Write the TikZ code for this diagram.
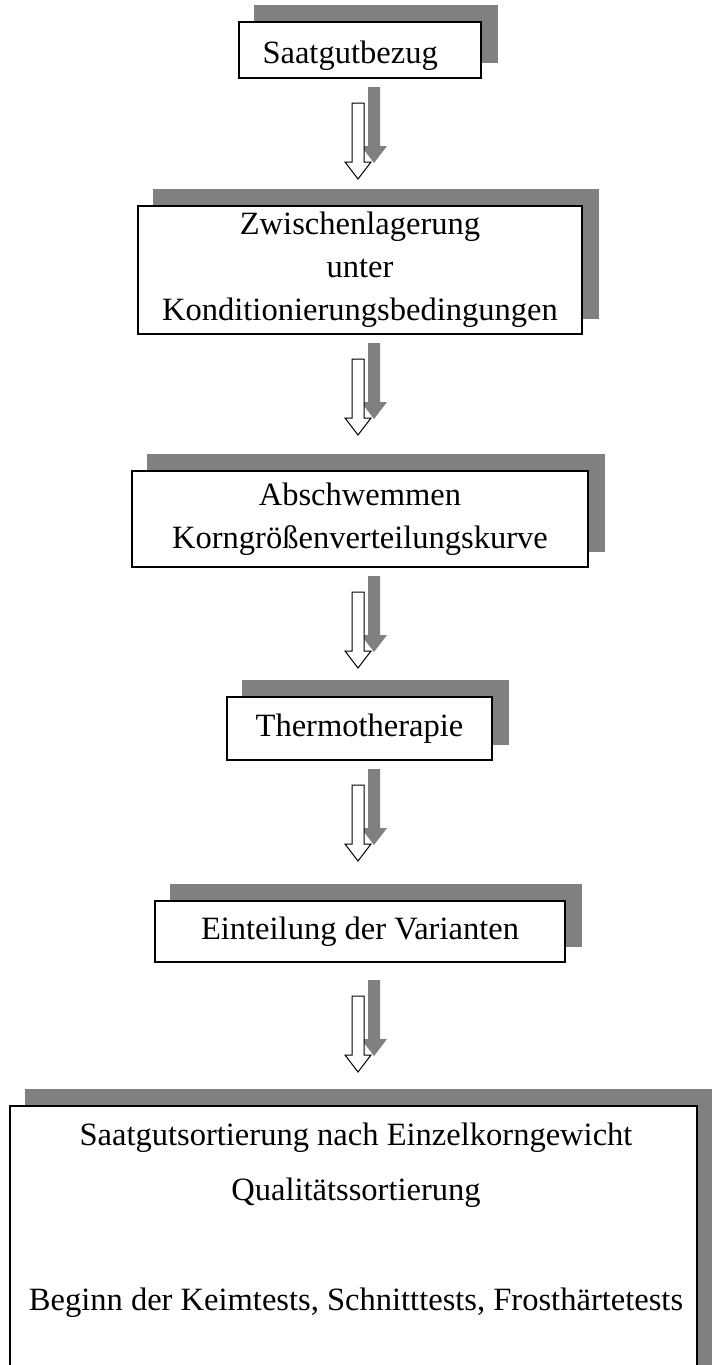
\documentclass[tikz,border=0pt]{standalone}
\usepackage{fontspec}
\setmainfont{Liberation Serif}
\usetikzlibrary{backgrounds}
\definecolor{schattengrau}{RGB}{128,128,128}

\tikzset{every picture/.style={line width=0.75pt},
	schrift/.style={font=\fontsize{24.4pt}{32.25pt}\selectfont},
	kasten/.style={draw=black, fill=white, line width=1.1pt, inner sep=0pt, align=center, schrift},
	pfeil/.style={draw=black, fill=white, line width=0.75pt, line join=miter},
	pfeilschatten/.style={fill=schattengrau}}

\begin{document}
\begin{tikzpicture}[x=0.75pt,y=0.75pt,yscale=-1,xscale=1]
	\useasboundingbox (0,0) rectangle (712,1365);
	\clip (0,0) rectangle (712,1365);
	
	%Shape: Rectangle [Saatgutbezug]
	\node[kasten, minimum width=181.5pt, minimum height=42pt] (bezug) at (360,50) {};
	%Shape: Rectangle [Zwischenlagerung]
	\node[kasten, minimum width=333pt, minimum height=96pt] (lager) at (360,270) {Zwischenlagerung\\unter\\Konditionierungsbedingungen};
	%Shape: Rectangle [Abschwemmen]
	\node[kasten, minimum width=342pt, minimum height=72pt] (schwemm) at (360,519) {Abschwemmen\\Korngrößenverteilungskurve};
	%Shape: Rectangle [Thermotherapie]
	\node[kasten, minimum width=198.75pt, minimum height=47.25pt] (thermo) at (359.5,728.5) {Thermotherapie};
	%Shape: Rectangle [Einteilung]
	\node[kasten, minimum width=307.5pt, minimum height=45.75pt] (einteil) at (360,931.5) {Einteilung der Varianten};
	%Shape: Rectangle [Sortierung]
	\node[kasten, minimum width=515.25pt, minimum height=205.5pt] (sort) at (353.5,1243) {};
	
	% Text Node
	\node[schrift, anchor=base west, inner sep=0pt] (bezugtext) at (262,63) {Saatgutbezug};
	% Text Node
	\node[schrift, align=center, inner sep=0pt, font=\fontsize{24.4pt}{41.25pt}\selectfont] (sorttext) at (356,1220) {Saatgutsortierung nach Einzelkorngewicht\\Qualitätssortierung\\\mbox{}\\Beginn der Keimtests, Schnitttests, Frosthärtetests};
	
	% Shadows
	\begin{scope}[on background layer]
		\foreach \k in {bezug,lager,schwemm,thermo,einteil,sort}
		\fill[schattengrau] ([shift={(16,-16)}]\k.south west) rectangle ([shift={(16,-16)}]\k.north east);
	\end{scope}
	
	% Connection
	\coordinate (p1) at (358,103);
	\fill[pfeilschatten] ([shift={(10,-16)}]p1) -- ++(12,0) -- ++(0,59) -- ++(7,0) -- ++(-13,17) -- ++(-13,-17) -- ++(7,0) -- cycle;
	\draw[pfeil] ([shift={(-6,0)}]p1) -- ++(12,0) -- ++(0,59) -- ++(7,0) -- ++(-13,17) -- ++(-13,-17) -- ++(7,0) -- cycle;
	% Connection
	\coordinate (p2) at (358,359);
	\fill[pfeilschatten] ([shift={(10,-16)}]p2) -- ++(12,0) -- ++(0,59) -- ++(7,0) -- ++(-13,17) -- ++(-13,-17) -- ++(7,0) -- cycle;
	\draw[pfeil] ([shift={(-6,0)}]p2) -- ++(12,0) -- ++(0,59) -- ++(7,0) -- ++(-13,17) -- ++(-13,-17) -- ++(7,0) -- cycle;
	% Connection
	\coordinate (p3) at (358,592);
	\fill[pfeilschatten] ([shift={(10,-16)}]p3) -- ++(12,0) -- ++(0,59) -- ++(7,0) -- ++(-13,17) -- ++(-13,-17) -- ++(7,0) -- cycle;
	\draw[pfeil] ([shift={(-6,0)}]p3) -- ++(12,0) -- ++(0,59) -- ++(7,0) -- ++(-13,17) -- ++(-13,-17) -- ++(7,0) -- cycle;
	% Connection
	\coordinate (p4) at (358,785);
	\fill[pfeilschatten] ([shift={(10,-16)}]p4) -- ++(12,0) -- ++(0,59) -- ++(7,0) -- ++(-13,17) -- ++(-13,-17) -- ++(7,0) -- cycle;
	\draw[pfeil] ([shift={(-6,0)}]p4) -- ++(12,0) -- ++(0,59) -- ++(7,0) -- ++(-13,17) -- ++(-13,-17) -- ++(7,0) -- cycle;
	% Connection
	\coordinate (p5) at (358,996);
	\fill[pfeilschatten] ([shift={(10,-16)}]p5) -- ++(12,0) -- ++(0,59) -- ++(7,0) -- ++(-13,17) -- ++(-13,-17) -- ++(7,0) -- cycle;
	\draw[pfeil] ([shift={(-6,0)}]p5) -- ++(12,0) -- ++(0,59) -- ++(7,0) -- ++(-13,17) -- ++(-13,-17) -- ++(7,0) -- cycle;
	
\end{tikzpicture}
\end{document}
